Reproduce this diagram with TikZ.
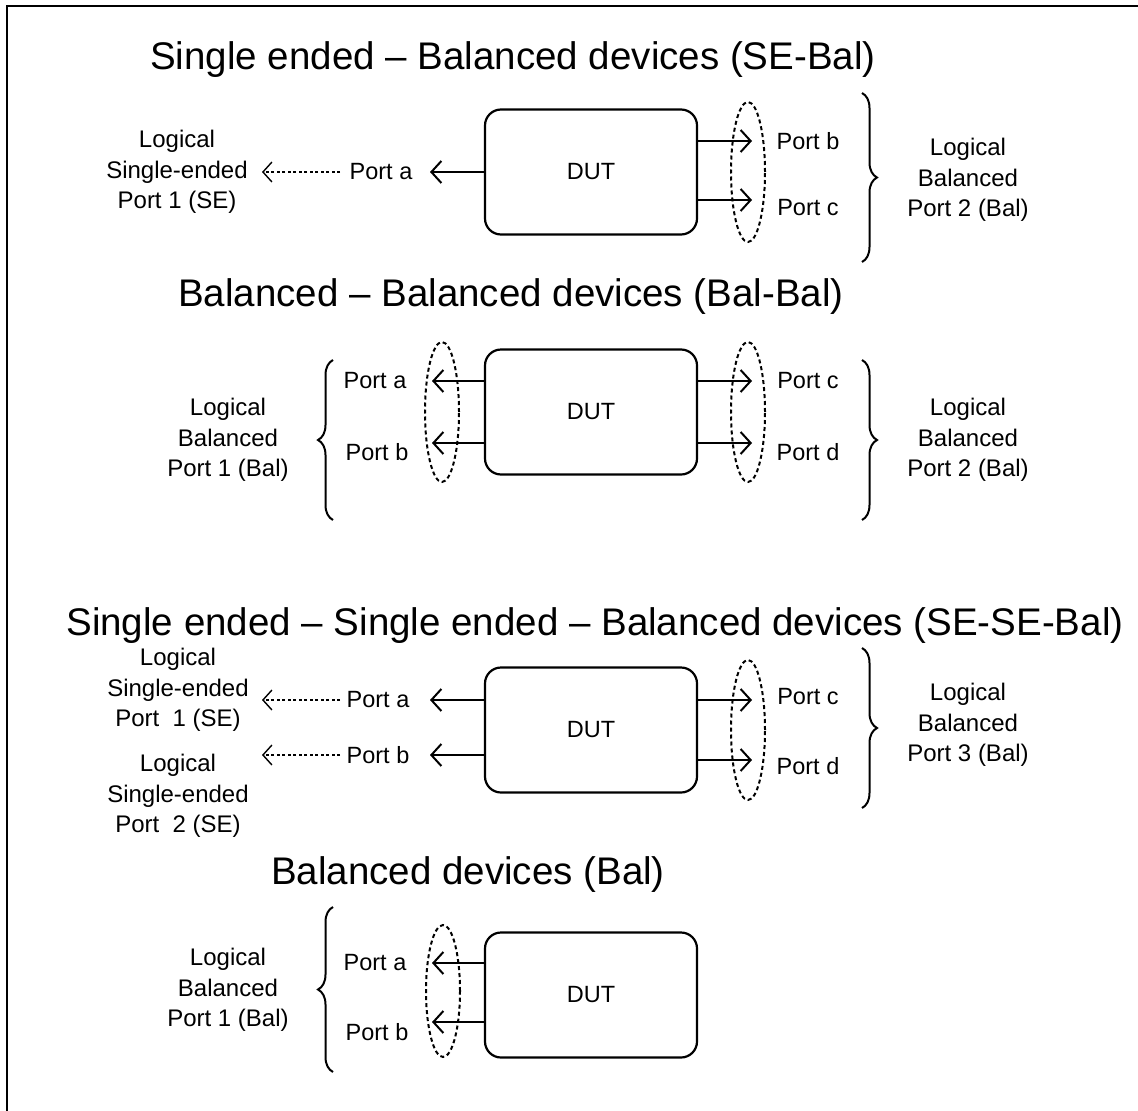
\documentclass[tikz,border=0pt]{standalone}
\usepackage{fontspec}
\setmainfont{Liberation Sans}
\usetikzlibrary{arrows.meta,shapes.geometric,decorations.pathreplacing}
\begin{document}
\begin{tikzpicture}[x=1pt,y=-1pt,
  title/.style={font=\fontsize{38.5}{46}\selectfont, inner sep=0},
  lbl/.style={font=\fontsize{24}{30.5}\selectfont, align=center, inner sep=0},
  port/.style={font=\fontsize{23.5}{28}\selectfont, inner sep=0},
  dut/.style={draw, line width=2.2, rounded corners=16, minimum width=212, minimum height=125, font=\fontsize{23.5}{28}\selectfont},
  arr/.style={line width=2, -{Straight Barb[length=10,width=22,line width=2]}},
  dotarr/.style={line width=1.4, dash pattern=on 3 off 2.5, -{Straight Barb[length=9,width=20,line width=1.4]}},
  ell/.style={draw, ellipse, line width=2, dash pattern=on 4 off 3, minimum width=34, minimum height=140, inner sep=0},
  brc/.style={line width=2, decorate, decoration={brace, amplitude=15}},
]
\useasboundingbox (0,0) rectangle (1138,1111);
\draw[line width=2.4] (7,1111) -- (7,6) -- (1138,6);

% ---------- Section 1 ----------
\node[title] (t1) at (513,60) {Single ended -- Balanced devices (SE-Bal)};
\node[dut] (dut1) at (591,172) {DUT};
\node[port] (pa1) at (381,172) {Port a};
\node[lbl] (l1) at (177,172) {Logical\\Single-ended\\Port 1 (SE)};
\coordinate (a1e) at (430,172);
\draw[arr] (dut1.west) -- (a1e);
\coordinate (d1s) at (340,172);
\coordinate (d1e) at (262,172);
\draw[dotarr] (d1s) -- (d1e);
\coordinate (b1s) at (697,141); \coordinate (b1e) at (752,141);
\coordinate (c1s) at (697,200); \coordinate (c1e) at (752,200);
\draw[arr] (b1s) -- (b1e);
\draw[arr] (c1s) -- (c1e);
\node[ell] (e1) at (748,172) {};
\node[port] (pb1) at (808,141) {Port b};
\node[port] (pc1) at (808,208) {Port c};
\coordinate (br1a) at (862,93); \coordinate (br1b) at (862,262);
\draw[brc] (br1a) -- (br1b);
\node[lbl] (r1) at (968,180) {Logical\\Balanced\\Port 2 (Bal)};

% ---------- Section 2 ----------
\node[title] (t2) at (511,297) {Balanced -- Balanced devices (Bal-Bal)};
\node[dut] (dut2) at (591,412) {DUT};
\coordinate (a2s) at (485,381); \coordinate (a2e) at (432,381);
\coordinate (b2s) at (485,443); \coordinate (b2e) at (432,443);
\draw[arr] (a2s) -- (a2e);
\draw[arr] (b2s) -- (b2e);
\node[ell] (e2l) at (442,412) {};
\node[port] (pa2) at (375,381) {Port a};
\node[port] (pb2) at (377,452) {Port b};
\coordinate (br2a) at (333,520); \coordinate (br2b) at (333,360);
\draw[brc] (br2a) -- (br2b);
\node[lbl] (l2) at (228,440) {Logical\\Balanced\\Port 1 (Bal)};
\coordinate (c2s) at (697,381); \coordinate (c2e) at (752,381);
\coordinate (d2s) at (697,443); \coordinate (d2e) at (752,443);
\draw[arr] (c2s) -- (c2e);
\draw[arr] (d2s) -- (d2e);
\node[ell] (e2r) at (748,412) {};
\node[port] (pc2) at (808,381) {Port c};
\node[port] (pd2) at (808,452) {Port d};
\coordinate (br2c) at (862,360); \coordinate (br2d) at (862,520);
\draw[brc] (br2c) -- (br2d);
\node[lbl] (r2) at (968,440) {Logical\\Balanced\\Port 2 (Bal)};

% ---------- Section 3 ----------
\node[title] (t3) at (595,626) {Single ended -- Single ended -- Balanced devices (SE-SE-Bal)};
\node[dut] (dut3) at (591,730) {DUT};
\coordinate (a3s) at (485,700); \coordinate (a3e) at (430,700);
\coordinate (b3s) at (485,755); \coordinate (b3e) at (430,755);
\draw[arr] (a3s) -- (a3e);
\draw[arr] (b3s) -- (b3e);
\node[port] (pa3) at (378,700) {Port a};
\node[port] (pb3) at (378,755) {Port b};
\coordinate (d3as) at (340,700); \coordinate (d3ae) at (262,700);
\coordinate (d3bs) at (340,755); \coordinate (d3be) at (262,755);
\draw[dotarr] (d3as) -- (d3ae);
\draw[dotarr] (d3bs) -- (d3be);
\node[lbl] (l3a) at (178,690) {Logical\\Single-ended\\Port\ \ 1 (SE)};
\node[lbl] (l3b) at (178,796) {Logical\\Single-ended\\Port\ \ 2 (SE)};
\coordinate (c3s) at (697,700); \coordinate (c3e) at (752,700);
\coordinate (d3s) at (697,760); \coordinate (d3e) at (752,760);
\draw[arr] (c3s) -- (c3e);
\draw[arr] (d3s) -- (d3e);
\node[ell] (e3) at (748,730) {};
\node[port] (pc3) at (808,697) {Port c};
\node[port] (pd3) at (808,766) {Port d};
\coordinate (br3a) at (862,648); \coordinate (br3b) at (862,808);
\draw[brc] (br3a) -- (br3b);
\node[lbl] (r3) at (968,725) {Logical\\Balanced\\Port 3 (Bal)};

% ---------- Section 4 ----------
\node[title] (t4) at (468,875) {Balanced devices (Bal)};
\node[dut] (dut4) at (591,995) {DUT};
\coordinate (a4s) at (485,963); \coordinate (a4e) at (432,963);
\coordinate (b4s) at (485,1022); \coordinate (b4e) at (432,1022);
\draw[arr] (a4s) -- (a4e);
\draw[arr] (b4s) -- (b4e);
\node[ell, minimum height=132] (e4) at (443,991) {};
\node[port] (pa4) at (375,963) {Port a};
\node[port] (pb4) at (377,1032) {Port b};
\coordinate (br4a) at (333,1072); \coordinate (br4b) at (333,907);
\draw[brc] (br4a) -- (br4b);
\node[lbl] (l4) at (228,990) {Logical\\Balanced\\Port 1 (Bal)};
\end{tikzpicture}
\end{document}
